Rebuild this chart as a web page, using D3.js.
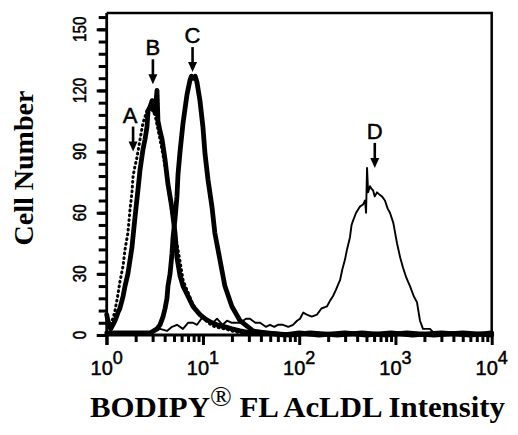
<!DOCTYPE html>
<html lang="en">
<head>
<meta charset="UTF-8">
<script src="https://d3js.org/d3.v7.min.js"></script>
<style>
  body { margin: 0; background: #fff; }
  svg { display: block; }
  .lbl { font-family: 'Liberation Sans', Arial, sans-serif; stroke: #000; stroke-width: 0.5px; }
</style>
</head>
<body>
<svg id="histo" width="518" height="435"></svg>
<script>
// Axis ticks
const xDecades = [0, 1, 2, 3, 4];
const yLabels = [0, 30, 60, 90, 120, 150];

// Histograms, [intensity, cell count]
const curveA = [[1.0, 9], [1.08, 5], [1.16, 8], [1.22, 12], [1.31, 20], [1.37, 26], [1.48, 34], [1.55, 42],
  [1.66, 50], [1.75, 62], [1.83, 70], [1.88, 78], [1.97, 83], [2.06, 87], [2.22, 96], [2.38, 104],
  [2.62, 110], [2.82, 112], [3.18, 108], [3.58, 96], [4.04, 83], [4.55, 66], [5.13, 50], [5.78, 36],
  [6.21, 27], [6.83, 22], [7.88, 15], [9.31, 10], [11.3, 6], [13.3, 4], [16.9, 3], [20, 2], [24.3, 1], [40, 0]];

const curveB = [[1.0, 10], [1.04, 6], [1.1, 3], [1.16, 5], [1.22, 7], [1.31, 11], [1.37, 13], [1.48, 19],
  [1.55, 24], [1.66, 30], [1.75, 37], [1.83, 43], [1.97, 58], [2.11, 71], [2.22, 81], [2.38, 91],
  [2.5, 96], [2.62, 102], [2.69, 110], [2.82, 112], [2.96, 115], [3.08, 111], [3.18, 109], [3.33, 120],
  [3.41, 105], [3.58, 100], [3.76, 96], [4.04, 86], [4.33, 74], [4.55, 68], [4.77, 62], [5.13, 50],
  [5.37, 38], [5.78, 29], [6.21, 24], [6.83, 20], [7.88, 14], [9.31, 10], [10.5, 8], [12.4, 6],
  [14, 5], [17, 4], [20, 3], [24.3, 2], [31, 1], [45, 1], [70, 0], [100, 1], [160, 0], [300, 1],
  [500, 0], [900, 1], [1500, 0], [3000, 1], [6000, 0], [10000, 1]];

const curveC = [[1.0, 1], [2.0, 1], [2.82, 1], [3.33, 3], [3.58, 5], [3.85, 9], [4.04, 13], [4.23, 18],
  [4.33, 24], [4.55, 30], [4.77, 40], [4.89, 48], [5.13, 57], [5.37, 68], [5.51, 79], [5.78, 90],
  [6.21, 104], [6.83, 118], [7.33, 125], [7.6, 127], [7.88, 126], [8.3, 127], [8.67, 124], [9.31, 115],
  [10, 102], [10.5, 89], [11.3, 76], [12.4, 63], [13.3, 50], [15, 37], [16.9, 24], [20, 14],
  [24.3, 7], [33.1, 2], [45, 1], [80, 0], [130, 1], [250, 0], [450, 1], [800, 0], [1300, 1],
  [2500, 0], [5000, 1], [10000, 0]];

const curveD = [[1.88, 0], [2.96, 1], [3.58, 3], [4.23, 2], [4.77, 4], [5.37, 5], [6.2, 3], [7.0, 6],
  [7.88, 6], [8.67, 5], [10, 9], [11, 7], [12.7, 6], [14, 8], [16, 5], [17.8, 7], [20, 6], [24.3, 6],
  [28, 8], [30.8, 8], [35, 6], [39.2, 6], [45, 4], [49.7, 5], [55, 4], [60, 5], [67.9, 5], [77, 4],
  [86.3, 5], [95, 7], [102, 8], [110, 11], [120, 10], [135, 9], [153, 10], [170, 13], [194, 14],
  [210, 17], [224, 19], [240, 22], [266, 27], [280, 32], [299, 37], [314, 42], [337, 48], [350, 54],
  [362, 56], [390, 60], [428, 63], [460, 64], [483, 66], [495, 60], [507, 82], [520, 70], [544, 73],
  [560, 72], [585, 71], [610, 68], [643, 70], [680, 69], [724, 68], [778, 66], [830, 62], [877, 60],
  [950, 55], [1038, 45], [1120, 38], [1199, 33], [1300, 28], [1416, 24], [1550, 19], [1675, 16],
  [1799, 7], [1932, 3], [2100, 3], [2285, 3], [2500, 1], [2704, 0]];

// Letter + arrow markers: [label, intensity, count at arrow tip]
const markers = [["A", 1.88, 90], ["B", 3.02, 123], ["C", 7.8, 129], ["D", 610, 82]];

const svg = d3.select("svg#histo");
const margin = { top: 13, right: 26.3, bottom: 100, left: 106.7 };
const width = +svg.attr("width");
const height = +svg.attr("height");
const chartWidth = width - margin.left - margin.right;
const chartHeight = height - margin.top - margin.bottom;

const x = d3.scaleLog().domain([1, 10000]).range([0, chartWidth]);
const y = d3.scaleLinear().domain([0, 158]).range([chartHeight, 0]);

const chart = svg.append("g").attr("transform", `translate(${margin.left},${margin.top})`);

// Frame (top and right)
chart.append("path")
  .attr("d", `M0,0H${chartWidth}V${chartHeight}`)
  .attr("fill", "none").attr("stroke", "#000").attr("stroke-width", 2.5);

// Curves
const lineGen = d3.line().x(d => x(d[0])).y(d => y(d[1]));
const curves = [
  { data: curveD, w: 1.9, dash: null },
  { data: curveC, w: 4.8, dash: null },
  { data: curveB, w: 4.8, dash: null },
  { data: curveA, w: 3, dash: "0.8,4" }
];
curves.forEach(c => {
  chart.append("path").datum(c.data)
    .attr("d", lineGen)
    .attr("fill", "none")
    .attr("stroke", "#000")
    .attr("stroke-width", c.w)
    .attr("stroke-linejoin", "round")
    .attr("stroke-linecap", "round")
    .attr("stroke-dasharray", c.dash);
});

// Y axis: minor ticks every 6, labelled ticks every 30
const yMinor = d3.range(0, 157, 6);
chart.append("g").call(d3.axisLeft(y).tickValues(yMinor).tickSize(8).tickFormat(""))
  .call(g => g.select(".domain").remove())
  .call(g => g.selectAll("line").attr("stroke", "#000").attr("stroke-width", 3));
chart.append("g").call(d3.axisLeft(y).tickValues(yLabels).tickSize(10).tickFormat(""))
  .call(g => g.select(".domain").remove())
  .call(g => g.selectAll("line").attr("stroke", "#000").attr("stroke-width", 3));
chart.append("line")
  .attr("x1", 0).attr("x2", 0).attr("y1", 0).attr("y2", chartHeight + 10)
  .attr("stroke", "#000").attr("stroke-width", 2.8);

yLabels.forEach(v => {
  chart.append("text")
    .attr("class", "lbl")
    .attr("transform", `translate(-21,${y(v)}) rotate(-90) scale(0.85,1)`)
    .attr("text-anchor", "middle")
    .style("font-size", "18px")
    .text(v);
});

// X axis: log ticks, long at decades
const xMinor = [];
xDecades.slice(0, -1).forEach(e => {
  for (let k = 2; k <= 9; k++) xMinor.push(k * Math.pow(10, e));
});
chart.append("g").attr("transform", `translate(0,${chartHeight})`)
  .call(d3.axisBottom(x).tickValues(xMinor).tickSize(7).tickFormat(""))
  .call(g => g.select(".domain").remove())
  .call(g => g.selectAll("line").attr("stroke", "#000").attr("stroke-width", 3));
chart.append("g").attr("transform", `translate(0,${chartHeight})`)
  .call(d3.axisBottom(x).tickValues(xDecades.map(e => Math.pow(10, e))).tickSize(10).tickFormat(""))
  .call(g => g.select(".domain").remove())
  .call(g => g.selectAll("line").attr("stroke", "#000").attr("stroke-width", 3));
chart.append("line")
  .attr("x1", 0).attr("x2", chartWidth).attr("y1", chartHeight).attr("y2", chartHeight)
  .attr("stroke", "#000").attr("stroke-width", 2.8);

xDecades.forEach(e => {
  const t = chart.append("text")
    .attr("class", "lbl")
    .attr("x", x(Math.pow(10, e)))
    .attr("y", chartHeight + 40)
    .attr("text-anchor", "middle")
    .style("font-size", "20px");
  t.append("tspan").text("10");
  t.append("tspan").attr("dy", -11).style("font-size", "18px").text(e);
});

// Markers
markers.forEach(([label, xv, yv]) => {
  const px = x(xv), py = y(yv);
  chart.append("line")
    .attr("x1", px).attr("x2", px).attr("y1", py - 25).attr("y2", py - 7)
    .attr("stroke", "#000").attr("stroke-width", 2.6);
  chart.append("path")
    .attr("d", `M${px - 4.5},${py - 10}L${px + 4.5},${py - 10}L${px},${py}Z`)
    .attr("fill", "#000");
  chart.append("text")
    .attr("class", "lbl")
    .attr("x", px - (label === "A" ? 3 : 0))
    .attr("y", py - 29)
    .attr("text-anchor", "middle")
    .style("font-size", "22px")
    .text(label);
});

// Axis titles
svg.append("text")
  .attr("transform", `translate(33,168) rotate(-90)`)
  .attr("text-anchor", "middle")
  .style("font-family", "'Liberation Serif', 'Times New Roman', serif")
  .style("font-weight", "bold")
  .style("font-size", "28px")
  .text("Cell Number");

const xTitle = svg.append("text")
  .attr("x", 90).attr("y", 417)
  .attr("textLength", 415)
  .attr("lengthAdjust", "spacingAndGlyphs")
  .style("font-family", "'Liberation Serif', 'Times New Roman', serif")
  .style("font-weight", "bold")
  .style("font-size", "29px");
xTitle.append("tspan").text("BODIPY");
xTitle.append("tspan").attr("dy", -11).style("font-weight", "normal").style("font-size", "27px").text("®");
xTitle.append("tspan").attr("dy", 11).text(" FL AcLDL Intensity");
</script>
</body>
</html>
